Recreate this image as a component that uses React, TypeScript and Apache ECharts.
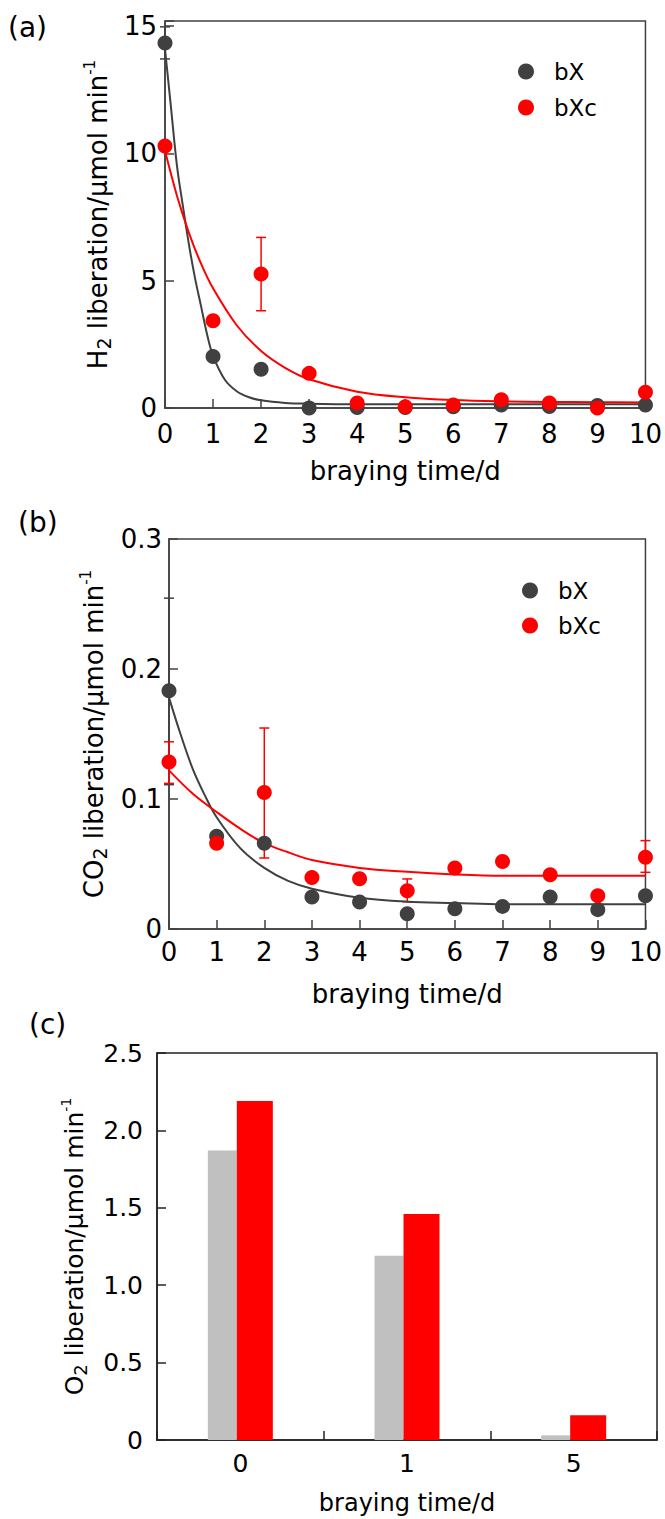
import React, { useEffect, useRef } from "react";
import * as echarts from "echarts";

const FONT = "'DejaVu Sans', sans-serif";
const GRAY = "#404040";
const RED = "#ff0000";

// ---- data ----
const days = [0, 1, 2, 3, 4, 5, 6, 7, 8, 9, 10];

// (a) H2 liberation
const h2_bX = [14.34, 2.02, 1.52, 0.0, 0.02, 0.02, 0.05, 0.12, 0.06, 0.1, 0.12];
const h2_bXc = [10.29, 3.43, 5.26, 1.36, 0.2, 0.05, 0.12, 0.32, 0.2, 0.0, 0.62];
const h2_bX_err = [[0, 13.71, 14.97]];
const h2_bXc_err = [[2, 3.82, 6.7]];
const h2_fitX_bX = [0, 0.125, 0.25, 0.375, 0.5, 0.625, 0.75, 0.875, 1, 1.25, 1.5, 1.75, 2, 2.5, 3, 4, 5, 6, 7, 8, 9, 10];
const h2_fitY_bX = [14.1, 11.8, 9.5, 7.9, 6.4, 5.1, 4.0, 2.9, 2.05, 1.1, 0.65, 0.42, 0.3, 0.2, 0.17, 0.15, 0.15, 0.15, 0.15, 0.15, 0.15, 0.15];
const h2_fitX_bXc = [0, 0.25, 0.5, 0.75, 1, 1.5, 2, 2.5, 3, 4, 5, 6, 7, 8, 9, 10];
const h2_fitY_bXc = [10.1, 8.33, 6.87, 5.67, 4.7, 3.23, 2.24, 1.58, 1.13, 0.64, 0.42, 0.31, 0.26, 0.24, 0.23, 0.22];

// (b) CO2 liberation
const co2_bX = [0.1833, 0.0713, 0.066, 0.0246, 0.0208, 0.0118, 0.0156, 0.0174, 0.0246, 0.0149, 0.0256];
const co2_bXc = [0.1285, 0.066, 0.105, 0.0397, 0.0387, 0.0295, 0.0469, 0.052, 0.0418, 0.0256, 0.0551];
const co2_bX_err = [[0, 0.111, 0.2545]];
const co2_bXc_err = [[0, 0.112, 0.144], [2, 0.0546, 0.1546], [5, 0.021, 0.0385], [10, 0.0436, 0.068]];
const co2_fitX_bX = [0, 0.25, 0.5, 0.75, 1, 1.5, 2, 2.5, 3, 4, 5, 6, 7, 8, 9, 10];
const co2_fitY_bX = [0.178, 0.149, 0.123, 0.103, 0.086, 0.062, 0.047, 0.037, 0.031, 0.024, 0.021, 0.02, 0.019, 0.019, 0.019, 0.019];
const co2_fitX_bXc = [0, 0.5, 1, 1.5, 2, 2.5, 3, 4, 5, 6, 7, 8, 9, 10];
const co2_fitY_bXc = [0.122, 0.104, 0.09, 0.077, 0.066, 0.059, 0.053, 0.047, 0.044, 0.042, 0.041, 0.041, 0.041, 0.041];

// (c) O2 liberation
const o2_categories = ["0", "1", "5"];
const o2_bX = [1.87, 1.19, 0.03];
const o2_bXc = [2.19, 1.46, 0.16];

const pairs = (xs: number[], ys: number[]) => xs.map((x, i) => [x, ys[i]]);

const axisLineStyle = { color: GRAY, width: 1.5 };

function xValueAxis(gridIndex: number, labelMargin: number, nameGap: number) {
  return {
    gridIndex,
    type: "value",
    min: 0,
    max: 10,
    interval: 1,
    axisLine: { show: true, lineStyle: axisLineStyle },
    axisTick: { show: true, inside: true, length: 9, lineStyle: axisLineStyle },
    axisLabel: { margin: labelMargin, fontSize: 26, color: "#000", fontFamily: FONT },
    splitLine: { show: false },
    name: "braying time/d",
    nameLocation: "middle",
    nameGap,
    nameTextStyle: { fontSize: 26, color: "#000", fontFamily: FONT },
  };
}

function richName(prefix: string, sub: string, rest: string, size: number) {
  return {
    name: `{m|${prefix}}{s|${sub}}{m|${rest}}{p|-1}`,
    nameTextStyle: {
      fontSize: size,
      fontFamily: FONT,
      color: "#000",
      rich: {
        m: { fontSize: size, fontFamily: FONT, color: "#000", lineHeight: size + 5 },
        s: { fontSize: Math.round(size * 0.72), fontFamily: FONT, color: "#000", verticalAlign: "bottom", lineHeight: Math.round(size * 0.72) },
        p: { fontSize: Math.round(size * 0.56), fontFamily: FONT, color: "#000", verticalAlign: "top", lineHeight: Math.round(size * 0.56) },
      },
    },
  };
}

function errSeries(name: string, data: number[][], color: string, xi: number, yi: number) {
  return {
    name,
    type: "custom",
    xAxisIndex: xi,
    yAxisIndex: yi,
    z: 1,
    encode: { x: 0, y: [1, 2] },
    data,
    renderItem: (params: any, api: any) => {
      const x = api.value(0);
      const lo = api.coord([x, api.value(1)]);
      const hi = api.coord([x, api.value(2)]);
      const cw = 5;
      const style = { stroke: color, lineWidth: 1.5 };
      return {
        type: "group",
        children: [
          { type: "line", shape: { x1: lo[0], y1: lo[1], x2: hi[0], y2: hi[1] }, style },
          { type: "line", shape: { x1: hi[0] - cw, y1: hi[1], x2: hi[0] + cw, y2: hi[1] }, style },
          { type: "line", shape: { x1: lo[0] - cw, y1: lo[1], x2: lo[0] + cw, y2: lo[1] }, style },
        ],
      };
    },
  };
}

function fitSeries(name: string, xs: number[], ys: number[], color: string, xi: number, yi: number) {
  return {
    name,
    type: "line",
    xAxisIndex: xi,
    yAxisIndex: yi,
    z: 2,
    data: pairs(xs, ys),
    showSymbol: false,
    smooth: 0.35,
    lineStyle: { color, width: 2 },
    itemStyle: { color },
  };
}

function scatterSeries(name: string, ys: number[], color: string, xi: number, yi: number, z: number) {
  return {
    name,
    type: "scatter",
    xAxisIndex: xi,
    yAxisIndex: yi,
    z,
    symbol: "circle",
    symbolSize: 15,
    data: pairs(days, ys),
    itemStyle: { color, opacity: 1 },
  };
}

const legendBase = {
  orient: "vertical",
  icon: "circle",
  itemWidth: 46,
  itemHeight: 16,
  padding: 0,
  selectedMode: false,
  data: ["bX", "bXc"],
  textStyle: { fontSize: 23, color: "#000", fontFamily: FONT },
};

const option: any = {
  animation: false,
  backgroundColor: "#fff",
  textStyle: { fontFamily: FONT },
  graphic: [
    { type: "text", left: 8, top: 13, style: { text: "(a)", fontSize: 28, fontFamily: FONT, fill: "#000" } },
    { type: "text", left: 18, top: 508, style: { text: "(b)", fontSize: 28, fontFamily: FONT, fill: "#000" } },
    { type: "text", left: 29, top: 1010, style: { text: "(c)", fontSize: 28, fontFamily: FONT, fill: "#000" } },
  ],
  legend: [
    { ...legendBase, left: 518, top: 60, itemGap: 13 },
    { ...legendBase, left: 522, top: 579, itemGap: 12 },
  ],
  grid: [
    { left: 165, top: 21, width: 483, height: 387, show: true, borderColor: GRAY, borderWidth: 1.5, backgroundColor: "transparent" },
    { left: 169, top: 539, width: 482, height: 390, show: true, borderColor: GRAY, borderWidth: 1.5, backgroundColor: "transparent" },
    { left: 157, top: 1053, width: 500, height: 387, show: true, borderColor: "#222", borderWidth: 1.5, backgroundColor: "transparent" },
  ],
  xAxis: [
    xValueAxis(0, 13, 50),
    xValueAxis(1, 10, 52),
    {
      gridIndex: 2,
      type: "category",
      data: o2_categories,
      axisLine: { show: true, lineStyle: { color: "#222", width: 1.5 } },
      axisTick: { show: true, inside: true, length: 9, lineStyle: { color: "#222", width: 1.5 } },
      axisLabel: { margin: 11, fontSize: 25, color: "#000", fontFamily: FONT },
      name: "braying time/d",
      nameLocation: "middle",
      nameGap: 51,
      nameTextStyle: { fontSize: 24, color: "#000", fontFamily: FONT },
    },
  ],
  yAxis: [
    {
      gridIndex: 0,
      type: "value",
      min: 0,
      max: 15.2,
      interval: 5,
      axisLine: { show: true, lineStyle: axisLineStyle },
      axisTick: { show: true, inside: true, length: 9, lineStyle: axisLineStyle },
      axisLabel: {
        margin: 8,
        fontSize: 26,
        color: "#000",
        fontFamily: FONT,
        formatter: (v: number) => (v % 5 === 0 ? String(v) : ""),
      },
      splitLine: { show: false },
      nameLocation: "middle",
      nameRotate: 90,
      nameGap: 52,
      ...richName("H", "2", " liberation/μmol min", 26),
    },
    {
      gridIndex: 1,
      type: "value",
      min: 0,
      max: 0.3,
      interval: 0.1,
      axisLine: { show: true, lineStyle: axisLineStyle },
      axisTick: { show: true, inside: true, length: 9, lineStyle: axisLineStyle },
      axisLabel: {
        margin: 7,
        fontSize: 26,
        color: "#000",
        fontFamily: FONT,
        formatter: (v: number) => (v === 0 ? "0" : v.toFixed(1)),
      },
      splitLine: { show: false },
      nameLocation: "middle",
      nameRotate: 90,
      nameGap: 58,
      ...richName("CO", "2", " liberation/μmol min", 26),
    },
    {
      gridIndex: 2,
      type: "value",
      min: 0,
      max: 2.5,
      interval: 0.5,
      axisLine: { show: true, lineStyle: { color: "#222", width: 1.5 } },
      axisTick: { show: true, inside: true, length: 9, lineStyle: { color: "#222", width: 1.5 } },
      axisLabel: {
        margin: 14,
        fontSize: 25,
        color: "#000",
        fontFamily: FONT,
        formatter: (v: number) => (v === 0 ? "0" : v.toFixed(1)),
      },
      splitLine: { show: false },
      nameLocation: "middle",
      nameRotate: 90,
      nameGap: 68,
      ...richName("O", "2", " liberation/μmol min", 25),
    },
  ],
  series: [
    errSeries("bX err a", h2_bX_err, GRAY, 0, 0),
    errSeries("bXc err a", h2_bXc_err, RED, 0, 0),
    fitSeries("bX fit a", h2_fitX_bX, h2_fitY_bX, GRAY, 0, 0),
    fitSeries("bXc fit a", h2_fitX_bXc, h2_fitY_bXc, RED, 0, 0),
    scatterSeries("bX", h2_bX, GRAY, 0, 0, 3),
    scatterSeries("bXc", h2_bXc, RED, 0, 0, 4),

    errSeries("bX err b", co2_bX_err, GRAY, 1, 1),
    errSeries("bXc err b", co2_bXc_err, RED, 1, 1),
    fitSeries("bX fit b", co2_fitX_bX, co2_fitY_bX, GRAY, 1, 1),
    fitSeries("bXc fit b", co2_fitX_bXc, co2_fitY_bXc, RED, 1, 1),
    scatterSeries("bX", co2_bX, GRAY, 1, 1, 3),
    scatterSeries("bXc", co2_bXc, RED, 1, 1, 4),

    {
      name: "O2 bX",
      type: "bar",
      xAxisIndex: 2,
      yAxisIndex: 2,
      data: o2_bX,
      barWidth: 29,
      barGap: "0%",
      itemStyle: { color: "#c0c0c0" },
    },
    {
      name: "O2 bXc",
      type: "bar",
      xAxisIndex: 2,
      yAxisIndex: 2,
      data: o2_bXc,
      barWidth: 36,
      barGap: "0%",
      itemStyle: { color: RED },
    },
  ],
};

export default function App() {
  const ref = useRef<HTMLDivElement>(null);
  useEffect(() => {
    if (!ref.current) return;
    const chart = echarts.init(ref.current, null, { renderer: "svg" });
    chart.setOption(option);
    return () => chart.dispose();
  }, []);
  return (
    <div
      ref={ref}
      style={{ position: "absolute", left: 0, top: 0, width: 665, height: 1519, background: "#fff" }}
    />
  );
}
